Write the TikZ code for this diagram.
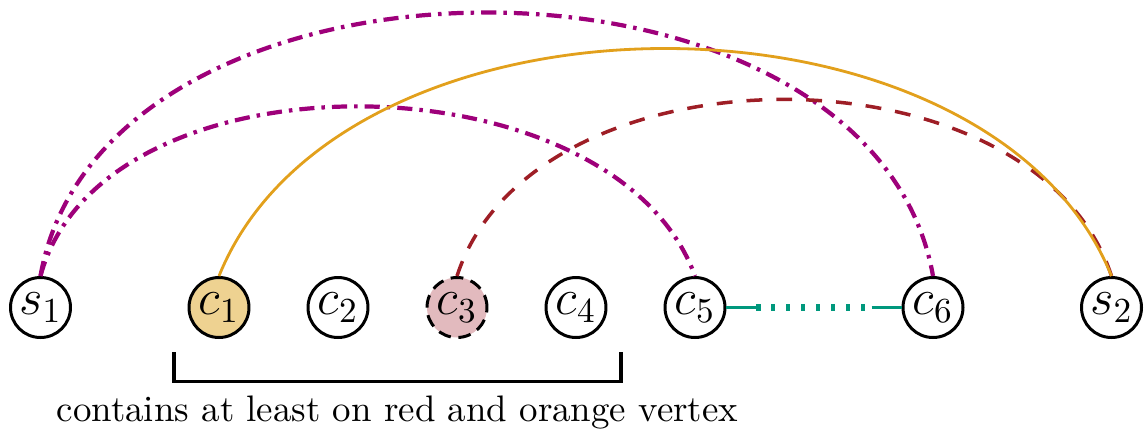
\documentclass[tikz,border=0pt]{standalone}
\usepackage{amsmath}
\usepackage{xcolor}
\usepackage{tikz}
\usetikzlibrary{
  positioning,
  calc
}
\definecolor{pathmagenta}{RGB}{158, 0, 122}
\definecolor{pathorange}{RGB}{226, 160, 28}
\definecolor{pathred}{RGB}{158, 30, 38}
\definecolor{linkteal}{RGB}{0, 152, 125}
\definecolor{orangefill}{RGB}{238, 210, 145}
\definecolor{redfill}{RGB}{226, 186, 190}
\tikzset{
  vert/.style = {
    circle, draw=black, line width=0.85pt,
    fill=#1, minimum size=0.6cm, inner sep=0pt,
    font=\Large
  },
  vert/.default = white,
  magpath/.style = {draw=pathmagenta, line width=1.2pt,
    dash pattern=on 4.3pt off 2pt on 1pt off 2pt},
  orgpath/.style = {draw=pathorange, line width=0.8pt},
  redpath/.style = {draw=pathred, line width=1pt,
    dash pattern=on 4.5pt off 4pt},
  tealsolid/.style = {draw=linkteal, line width=0.9pt},
  tealdots/.style = {draw=linkteal, line width=1.8pt,
    dash pattern=on 1.15pt off 3.1pt},
  bracket/.style = {draw=black, line width=0.9pt},
  note/.style = {font=\fontsize{10.5pt}{12pt}\selectfont, inner sep=0pt,
    anchor=base},
}
\begin{document}
\begin{tikzpicture}[node distance=1.19cm, on grid]
  \useasboundingbox (0,0) rectangle (11.48,4.35);

  %% ── Vertices ───────────────────────────────────────────────────────────
  \node[vert] (s1) at (0.405,1.275) {$s_1$};
  \node[vert=orangefill, right=1.785cm of s1] (c1) {$c_1$};
  \node[vert, right=of c1] (c2) {$c_2$};
  \node[vert=redfill, dash pattern=on 3.6pt off 2.2pt, right=of c2] (c3)
    {$c_3$};
  \node[vert, right=of c3] (c4) {$c_4$};
  \node[vert, right=of c4] (c5) {$c_5$};
  \node[vert, right=2.38cm of c5] (c6) {$c_6$};
  \node[vert, right=1.785cm of c6] (s2) {$s_2$};

  %% ── Arcs ───────────────────────────────────────────────────────────────
  \draw[magpath] (s1.north) to[out=80, in=100, looseness=1.025] (c6.north);
  \draw[magpath] (s1.north) to[out=75, in=110, looseness=0.93] (c5.north);
  \draw[redpath] (c3.north) to[out=72, in=108, looseness=0.97] (s2.north);
  \draw[orgpath] (c1.north) to[out=68, in=112, looseness=0.94] (s2.north);

  %% ── Link c5 -- c6 ──────────────────────────────────────────────────────
  \coordinate (tL) at ($(c5.east)+(0.3,0)$);
  \coordinate (tR) at ($(c6.west)+(-0.3,0)$);
  \draw[tealsolid] (c5.east) -- (tL);
  \draw[tealdots] (tL) -- (tR);
  \draw[tealsolid] (tR) -- (c6.west);

  %% ── Bracket ────────────────────────────────────────────────────────────
  \coordinate (brL) at ($(c1)+(-0.45,-0.445)$);
  \coordinate (brR) at ($(c4)+(0.45,-0.445)$);
  \draw[bracket] (brL) -- ++(0,-0.297) -| (brR);
  \node[note] (note) at ($(c1)!0.5!(c4)+(0,-1.14)$)
    {contains at least on red and orange vertex};

\end{tikzpicture}
\end{document}
